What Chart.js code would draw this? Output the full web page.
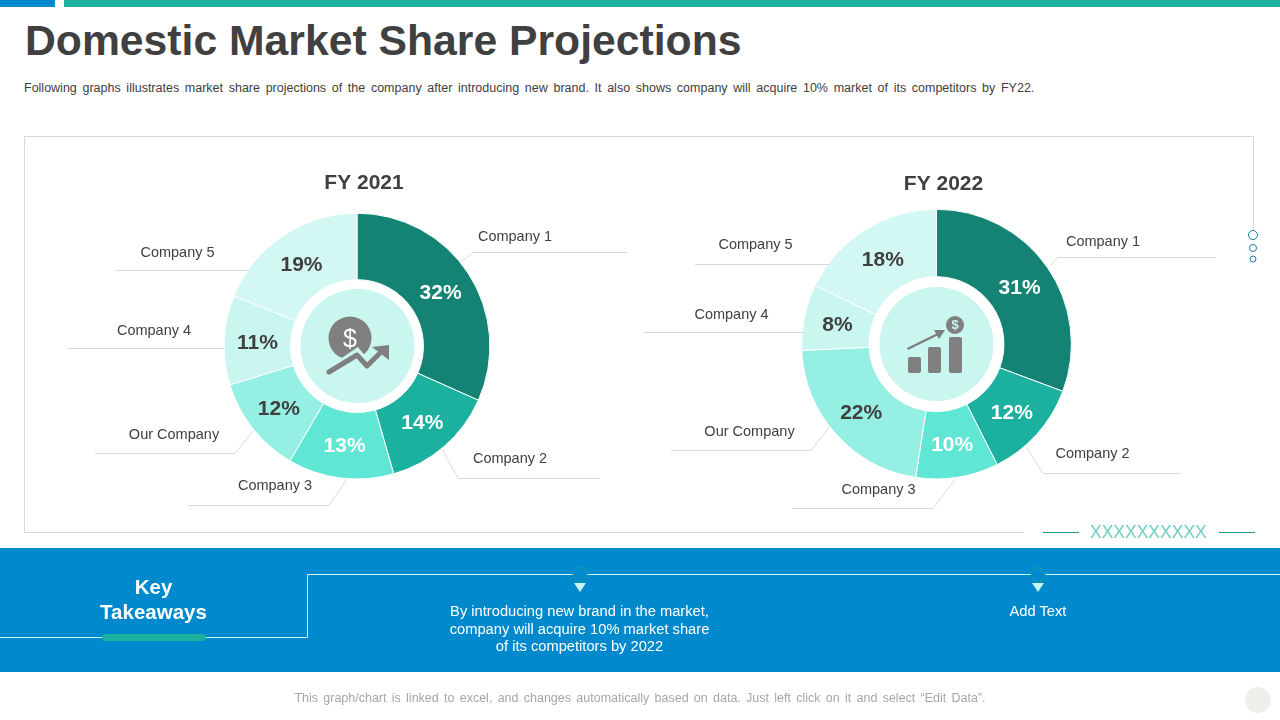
<!DOCTYPE html>
<html>
<head>
<meta charset="utf-8">
<script src="https://cdn.jsdelivr.net/npm/chart.js@4"></script>
<style>
html,body{margin:0;padding:0;background:#fff;width:1280px;height:720px;overflow:hidden;font-family:"Liberation Sans",Arial,sans-serif}
.a{position:absolute;white-space:nowrap}
.c{transform:translateX(-50%);text-align:center}
canvas{position:absolute}
svg{position:absolute;left:0;top:0}
</style>
</head>
<body>
<div class="a" style="left:0;top:0;width:55px;height:7px;background:#0089CC"></div>
<div class="a" style="left:64px;top:0;width:1216px;height:7px;background:#1CB09E"></div>
<div class="a" style="left:25px;top:15px;font-size:42.7px;font-weight:bold;color:#404040;line-height:50px">Domestic Market Share Projections</div>
<div class="a" style="left:24px;top:80px;font-size:12.5px;color:#404040;line-height:16px;word-spacing:2.2px">Following graphs illustrates market share projections of the company after introducing new brand. It also shows company will acquire 10% market of its competitors by FY22.</div>

<div class="a" style="left:0;top:548px;width:1280px;height:124px;background:#0089CC"></div>

<canvas id="c21" width="634" height="360" style="left:40px;top:160px;width:634px;height:360px"></canvas>
<canvas id="c22" width="593" height="360" style="left:640px;top:160px;width:593px;height:360px"></canvas>

<svg width="1280" height="720" viewBox="0 0 1280 720" fill="none">
  <!-- frame -->
  <path d="M1024 532.5H24.5V136.5H1253.5V230" stroke="#D9D9D9"/>
  <circle cx="1253" cy="235" r="4.5" stroke="#1F7FA8"/>
  <circle cx="1253" cy="248" r="3.5" stroke="#1F7FA8"/>
  <circle cx="1253" cy="259" r="3" stroke="#1F7FA8"/>
  <path d="M1043 532.5H1079M1219 532.5H1255" stroke="#1C9C8E"/>
  <!-- centre discs -->
  <circle cx="357.5" cy="346" r="57" fill="#C9F6EF"/>
  <circle cx="936.5" cy="344" r="57" fill="#C9F6EF"/>
  <!-- icon 2021 -->
  <circle cx="350" cy="338" r="21.5" fill="#7F7F7F"/>
  <path d="M329 372L357 353L367 365L381 351" stroke="#C9F6EF" stroke-width="9"/>
  <path d="M329 372L357 355L367 366L381 352" stroke="#7F7F7F" stroke-width="5" stroke-linecap="round" stroke-linejoin="round"/>
  <path d="M372 347L389 345V360Z" fill="#7F7F7F"/>
  <!-- icon 2022 -->
  <rect x="908" y="357" width="13" height="16" rx="2" fill="#7F7F7F"/>
  <rect x="928" y="347" width="13" height="26" rx="2" fill="#7F7F7F"/>
  <rect x="949" y="337" width="13" height="36" rx="2" fill="#7F7F7F"/>
  <path d="M907.5 349L940 333" stroke="#7F7F7F" stroke-width="2.5"/>
  <path d="M945 330L934 330L939 339Z" fill="#7F7F7F"/>
  <circle cx="955" cy="325" r="9" fill="#7F7F7F"/>
  <!-- band rules -->
  <path d="M0 637.5H307.5V574.5H1280" stroke="#C9F6EF"/>
  <rect x="102" y="634" width="104" height="7" rx="3.5" fill="#1CB09E"/>
  <g>
    <circle cx="580" cy="574.5" r="7" fill="#0089CC" stroke="#1C9C9E"/>
    <path d="M574 583H586L580 592Z" fill="#C9F6EF"/>
    <circle cx="1038" cy="574.5" r="7" fill="#0089CC" stroke="#1C9C9E"/>
    <path d="M1032 583H1044L1038 592Z" fill="#C9F6EF"/>
  </g>
  <circle cx="1258" cy="700" r="13" fill="#F0EEEA"/>
</svg>

<div class="a c" style="left:350px;top:325px;font-size:25px;color:#fff;line-height:26px">$</div>
<div class="a c" style="left:955px;top:318px;font-size:13px;font-weight:bold;color:#C9F6EF;line-height:14px">$</div>
<div class="a" style="left:1090px;top:523px;font-size:17.5px;line-height:18px;color:#6FCFC0">XXXXXXXXXX</div>

<div class="a c" style="left:153.5px;top:574px;font-size:20.5px;font-weight:bold;color:#fff;line-height:25px">Key<br>Takeaways</div>
<div class="a c" style="left:579.5px;top:603px;font-size:14.7px;color:#fff;line-height:17.5px">By introducing new brand in the market,<br>company will acquire 10% market share<br>of its competitors by 2022</div>
<div class="a c" style="left:1038px;top:603px;font-size:14.7px;color:#fff;line-height:17.5px">Add Text</div>
<div class="a c" style="left:640px;top:690px;font-size:12.5px;color:#A6A6A6;line-height:16px;word-spacing:1.8px">This graph/chart is linked to excel, and changes automatically based on data. Just left click on it and select “Edit Data”.</div>

<script>
// ---- data ----
const categories = ["Company 1", "Company 2", "Company 3", "Our Company", "Company 4", "Company 5"];
const share2021 = [32, 14, 13, 12, 11, 19];
const share2022 = [31, 12, 10, 22, 8, 18];
const sliceColors = ["#158373", "#1CB09E", "#60E6D5", "#96EFE3", "#C9F6EF", "#D3F7F3"];

// ---- annotation layout (page pixels), per category ----
const leaders2021 = [
  [[461,262],[473,252.5],[627,252.5]],
  [[442,449],[458,478.5],[599,478.5]],
  [[347,479],[329,505.5],[188,505.5]],
  [[253,431],[235,453.5],[95,453.5]],
  [[224,348.5],[67,348.5]],
  [[248,270.5],[115,270.5]]
];
const labelAt2021 = [[515,237],[510,459],[275,486],[174,435],[154,331],[177.5,253]];
const leaders2022 = [
  [[1051,265],[1058,257.5],[1215,257.5]],
  [[1027,448],[1043,473.5],[1181,473.5]],
  [[956,478],[933,508.5],[792,508.5]],
  [[830,426],[811,450.5],[671,450.5]],
  [[803,332.5],[644,332.5]],
  [[830,264.5],[695,264.5]]
];
const labelAt2022 = [[1103,242],[1092.5,454],[878.5,490],[749.5,432],[731.5,315],[755.5,245]];

const FONT = '"Liberation Sans", Arial, sans-serif';
const DARK = "#404040";

const annotate = {
  id: "annotate",
  afterLayout(chart, args, o) {
    // the slide's chart titles sit a little right of the ring centre
    chart.titleBlock.left += o.titleShift;
    chart.titleBlock.right += o.titleShift;
  },
  afterDatasetsDraw(chart, args, o) {
    const ctx = chart.ctx;
    ctx.save();
    // value labels at each arc's centre
    chart.getDatasetMeta(0).data.forEach((arc, i) => {
      const p = arc.tooltipPosition();
      ctx.font = "bold 21px " + FONT;
      ctx.fillStyle = o.whiteValues.includes(i) ? "#FFFFFF" : DARK;
      ctx.textAlign = "center";
      ctx.textBaseline = "middle";
      ctx.fillText(chart.data.datasets[0].data[i] + "%", p.x, p.y + 1.5);
    });
    // leader lines and category labels
    ctx.strokeStyle = "#D9D9D9";
    ctx.lineWidth = 1;
    o.leaders.forEach((pts, i) => {
      ctx.beginPath();
      pts.forEach((q, k) => {
        const x = q[0] - o.left, y = q[1] - o.top;
        if (k) ctx.lineTo(x, y); else ctx.moveTo(x, y);
      });
      ctx.stroke();
      ctx.font = "14.5px " + FONT;
      ctx.fillStyle = DARK;
      ctx.textAlign = "center";
      ctx.textBaseline = "middle";
      ctx.fillText(chart.data.labels[i], o.labelAt[i][0] - o.left, o.labelAt[i][1] - o.top);
    });
    ctx.restore();
  }
};

function donut(id, title, values, pad, extra) {
  return new Chart(document.getElementById(id), {
    type: "doughnut",
    data: {
      labels: categories,
      datasets: [{ data: values, backgroundColor: sliceColors, borderColor: "#FFFFFF", borderWidth: 1 }]
    },
    options: {
      responsive: false,
      animation: false,
      cutout: "50%",
      layout: { padding: { bottom: 40.5 } },
      plugins: {
        legend: { display: false },
        tooltip: { enabled: false },
        title: {
          display: true,
          text: title,
          color: DARK,
          font: { family: FONT, size: 21, weight: "bold", lineHeight: 1.2 },
          padding: pad
        },
        annotate: extra
      }
    },
    plugins: [annotate]
  });
}

donut("c21", "FY 2021", share2021, { top: 11, bottom: 16.5 },
  { left: 40, top: 160, titleShift: 7, leaders: leaders2021, labelAt: labelAt2021, whiteValues: [0, 1, 2] });
donut("c22", "FY 2022", share2022, { top: 12, bottom: 11.6 },
  { left: 640, top: 160, titleShift: 7, leaders: leaders2022, labelAt: labelAt2022, whiteValues: [0, 1, 2] });
</script>
</body>
</html>
